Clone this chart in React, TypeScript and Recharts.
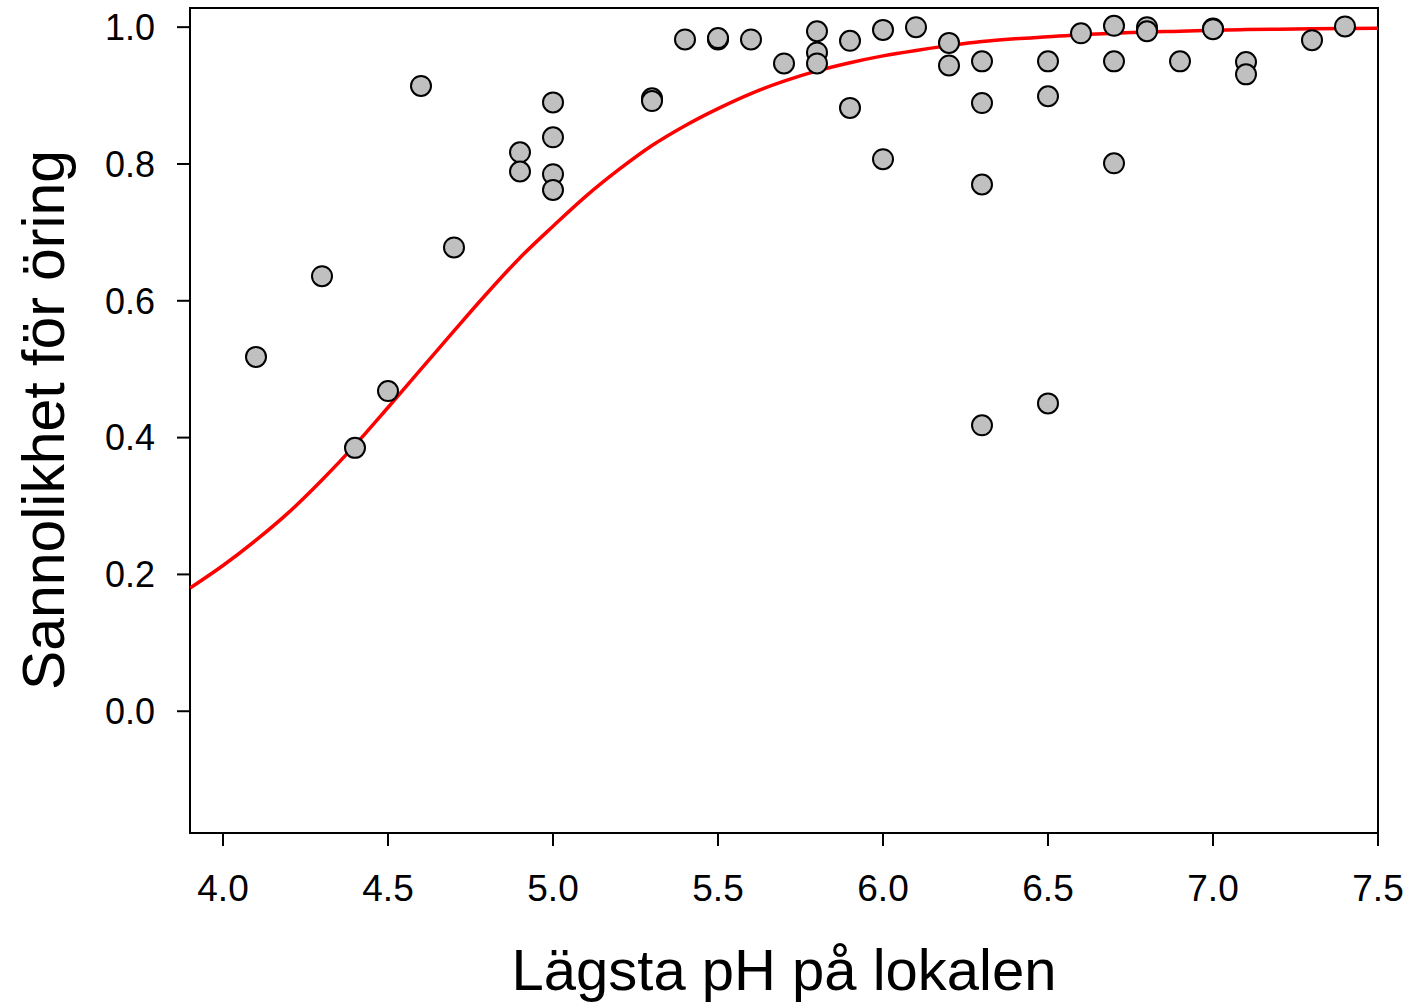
import {
  ComposedChart,
  Scatter,
  Line,
  XAxis,
  YAxis,
  ReferenceArea,
  Label,
} from "recharts";

// observed sites: lowest pH vs share with trout
const siteX = [
  4.1, 4.3, 4.4, 4.5, 4.6, 4.7, 4.9, 4.9, 5.0, 5.0, 5.0, 5.0, 5.3, 5.3, 5.4, 5.5, 5.5, 5.6, 5.7,
  5.8, 5.8, 5.8, 5.9, 5.9, 6.0, 6.0, 6.1, 6.2, 6.2, 6.3, 6.3, 6.3, 6.3, 6.5, 6.5, 6.5, 6.6,
  6.7, 6.7, 6.7, 6.8, 6.8, 6.9, 7.0, 7.0, 7.1, 7.1, 7.3, 7.4,
];
const siteY = [
  0.518, 0.636, 0.385, 0.468, 0.914, 0.678, 0.817, 0.789, 0.89, 0.839, 0.785, 0.762, 0.896, 0.892,
  0.982, 0.982, 0.984, 0.982, 0.947, 0.994, 0.963, 0.947, 0.98, 0.882, 0.996, 0.807, 1.0, 0.977,
  0.944, 0.95, 0.889, 0.77, 0.418, 0.95, 0.899, 0.45, 0.991, 1.002, 0.95, 0.801, 1.0, 0.994,
  0.95, 0.998, 0.997, 0.949, 0.931, 0.981, 1.001,
];

// fitted curve
const curveX = [
  3.9, 4.0, 4.1, 4.2, 4.3, 4.4, 4.5, 4.6, 4.7, 4.8, 4.9, 5.0, 5.1, 5.2, 5.3, 5.4, 5.5, 5.6, 5.7,
  5.8, 5.9, 6.0, 6.1, 6.2, 6.3, 6.4, 6.5, 6.6, 6.7, 6.8, 6.9, 7.0, 7.1, 7.2, 7.3, 7.4, 7.5,
];
const curveY = [
  0.18, 0.213, 0.25, 0.291, 0.338, 0.389, 0.444, 0.5, 0.556, 0.611, 0.663, 0.709, 0.753, 0.792,
  0.827, 0.856, 0.881, 0.903, 0.921, 0.936, 0.948, 0.958, 0.966, 0.973, 0.979, 0.983, 0.986,
  0.989, 0.991, 0.993, 0.994, 0.9955, 0.9964, 0.9971, 0.9977, 0.9982, 0.9985,
];

const xTicks = [4.0, 4.5, 5.0, 5.5, 6.0, 6.5, 7.0, 7.5];
const yTicks = [0.0, 0.2, 0.4, 0.6, 0.8, 1.0];

const points = siteX.map((x, i) => ({ x, y: siteY[i] }));
const curve = curveX.map((x, i) => ({ x, y: curveY[i] }));

const FONT = "Liberation Sans, Arial, sans-serif";

const YTitle = () => (
  <text
    x={0}
    y={0}
    transform="translate(64 420) rotate(-90)"
    textAnchor="middle"
    fontFamily={FONT}
    fontSize={60}
    fill="#000"
    textLength={540}
    lengthAdjust="spacingAndGlyphs"
  >
    Sannolikhet för öring
  </text>
);

export default function App() {
  return (
    <div style={{ position: "absolute", left: 0, top: 0, background: "#fff" }}>
      <ComposedChart
        width={1410}
        height={1005}
        margin={{ top: 8, right: 32, bottom: 0, left: 0 }}
      >
        <XAxis
          type="number"
          dataKey="x"
          domain={[3.9, 7.5]}
          ticks={xTicks}
          allowDataOverflow
          height={172}
          tickSize={13}
          tickMargin={29}
          tickFormatter={(v: number) => v.toFixed(1)}
          tick={{ fill: "#000", fontSize: 37, fontFamily: FONT }}
          axisLine={false}
          tickLine={{ stroke: "#000", strokeWidth: 2 }}
        >
          <Label
            value="Lägsta pH på lokalen"
            position="insideBottom"
            offset={15}
            style={{ fontSize: 58, fontFamily: FONT, fill: "#000" }}
          />
        </XAxis>
        <YAxis
          type="number"
          dataKey="y"
          domain={[-0.178, 1.028]}
          ticks={yTicks}
          allowDataOverflow
          width={190}
          tickSize={13}
          tickMargin={22}
          tickFormatter={(v: number) => v.toFixed(1)}
          tick={{ fill: "#000", fontSize: 36, fontFamily: FONT }}
          axisLine={false}
          tickLine={{ stroke: "#000", strokeWidth: 2 }}
        >
          <Label content={<YTitle />} />
        </YAxis>
        <ReferenceArea
          x1={3.9}
          x2={7.5}
          y1={-0.178}
          y2={1.028}
          fill="none"
          stroke="#000"
          strokeWidth={2}
          ifOverflow="visible"
        />
        <Line
          data={curve}
          dataKey="y"
          type="monotone"
          stroke="#ff0000"
          strokeWidth={3.5}
          dot={false}
          activeDot={false}
          isAnimationActive={false}
        />
        <Scatter
          data={points}
          dataKey="y"
          isAnimationActive={false}
          shape={(p: any) => (
            <circle cx={p.cx} cy={p.cy} r={10} fill="#c0c0c0" stroke="#000" strokeWidth={2} />
          )}
        />
      </ComposedChart>
    </div>
  );
}
